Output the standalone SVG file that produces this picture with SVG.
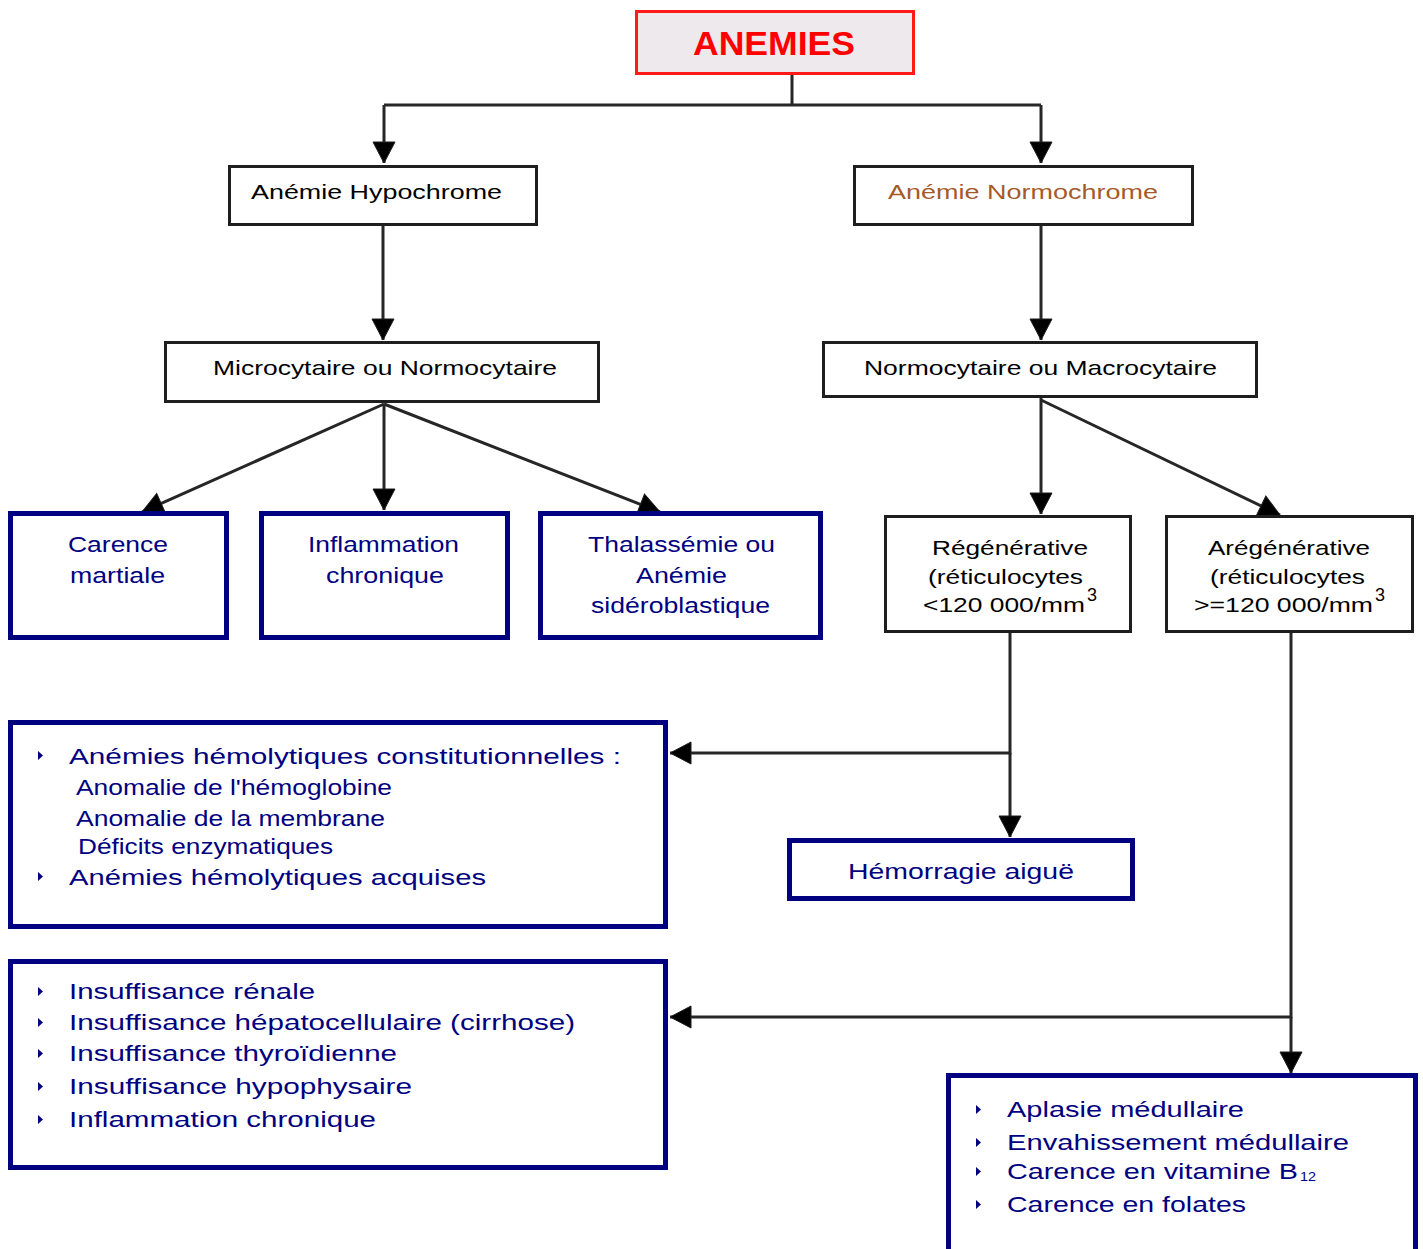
<svg xmlns="http://www.w3.org/2000/svg" width="1423" height="1249" viewBox="0 0 1423 1249">
<style>
.t{font-family:"Liberation Sans",Arial,sans-serif;font-size:21px;fill:#000}
.b{font-family:"Liberation Sans",Arial,sans-serif;font-size:22px;fill:#000080}
.bx{fill:#fff;stroke:#1e1e1e;stroke-width:3}
.bb{fill:#fff;stroke:#000080;stroke-width:5}
.c{fill:none;stroke:#262626;stroke-width:3}
</style>
<defs>
<marker id="ah" markerUnits="userSpaceOnUse" markerWidth="24" markerHeight="24" viewBox="0 -12 22 24" refX="21" refY="0" orient="auto">
<path d="M0,-11 L21,0 L0,11 z" fill="#000" stroke="#1e1e1e" stroke-width="1"/>
</marker>
<path id="bul" d="M0,0 L5,4.5 L0,9 z" fill="#000080"/>
</defs>

<g id="connectors">
<path class="c" d="M792,75 V105 M384,105 H1041"/>
<path class="c" d="M384,105 V163" marker-end="url(#ah)"/>
<path class="c" d="M1041,105 V163" marker-end="url(#ah)"/>
<path class="c" d="M383,226 V340" marker-end="url(#ah)"/>
<path class="c" d="M1041,226 V340" marker-end="url(#ah)"/>
<path class="c" d="M384,404 L142,512" marker-end="url(#ah)"/>
<path class="c" d="M384,404 V510" marker-end="url(#ah)"/>
<path class="c" d="M384,404 L660,512" marker-end="url(#ah)"/>
<path class="c" d="M1041,398 V514" marker-end="url(#ah)"/>
<path class="c" d="M1041,400 L1280,515" marker-end="url(#ah)"/>
<path class="c" d="M1010,633 V753 H670" marker-end="url(#ah)"/>
<path class="c" d="M1010,753 V837" marker-end="url(#ah)"/>
<path class="c" d="M1291,633 V1017 H670" marker-end="url(#ah)"/>
<path class="c" d="M1291,1017 V1073" marker-end="url(#ah)"/>
</g>

<g id="anemies">
<rect x="636.5" y="11.5" width="277" height="62" fill="#EEE9EC" stroke="#FF1A1A" stroke-width="3"/>
<text x="693" y="55" font-family="Liberation Sans,Arial,sans-serif" font-size="34" font-weight="bold" fill="#FF0000" textLength="162" lengthAdjust="spacingAndGlyphs">ANEMIES</text>
</g>

<g id="hypochrome">
<rect class="bx" x="229.5" y="166.5" width="307" height="58"/>
<text class="t" x="251" y="199" textLength="251" lengthAdjust="spacingAndGlyphs">Anémie Hypochrome</text>
</g>

<g id="normochrome">
<rect class="bx" x="854.5" y="166.5" width="338" height="58"/>
<text class="t" x="888" y="199" textLength="270" lengthAdjust="spacingAndGlyphs" style="fill:#A65A2A">Anémie Normochrome</text>
</g>

<g id="microcytaire">
<rect class="bx" x="165.5" y="342.5" width="433" height="59"/>
<text class="t" x="213" y="375" textLength="344" lengthAdjust="spacingAndGlyphs">Microcytaire ou Normocytaire</text>
</g>

<g id="normocytaire">
<rect class="bx" x="823.5" y="342.5" width="433" height="54"/>
<text class="t" x="864" y="375" textLength="353" lengthAdjust="spacingAndGlyphs">Normocytaire ou Macrocytaire</text>
</g>

<g id="carence">
<rect class="bb" x="10.5" y="513.5" width="216" height="124"/>
<text class="b" x="68" y="552" textLength="100" lengthAdjust="spacingAndGlyphs">Carence</text>
<text class="b" x="70" y="583" textLength="95" lengthAdjust="spacingAndGlyphs">martiale</text>
</g>

<g id="inflammation">
<rect class="bb" x="261.5" y="513.5" width="246" height="124"/>
<text class="b" x="308" y="552" textLength="151" lengthAdjust="spacingAndGlyphs">Inflammation</text>
<text class="b" x="326" y="583" textLength="118" lengthAdjust="spacingAndGlyphs">chronique</text>
</g>

<g id="thalassemie">
<rect class="bb" x="540.5" y="513.5" width="280" height="124"/>
<text class="b" x="588" y="552" textLength="187" lengthAdjust="spacingAndGlyphs">Thalassémie ou</text>
<text class="b" x="636" y="583" textLength="91" lengthAdjust="spacingAndGlyphs">Anémie</text>
<text class="b" x="591" y="613" textLength="179" lengthAdjust="spacingAndGlyphs">sidéroblastique</text>
</g>

<g id="regenerative">
<rect class="bx" x="885.5" y="516.5" width="245" height="115"/>
<text class="t" x="932" y="555" textLength="156" lengthAdjust="spacingAndGlyphs">Régénérative</text>
<text class="t" x="928" y="584" textLength="155" lengthAdjust="spacingAndGlyphs">(réticulocytes</text>
<text class="t" x="923" y="612" textLength="162" lengthAdjust="spacingAndGlyphs">&lt;120 000/mm</text>
<text class="t" x="1087" y="601" style="font-size:18px">3</text>
</g>

<g id="aregenerative">
<rect class="bx" x="1166.5" y="516.5" width="246" height="115"/>
<text class="t" x="1208" y="555" textLength="162" lengthAdjust="spacingAndGlyphs">Arégénérative</text>
<text class="t" x="1210" y="584" textLength="155" lengthAdjust="spacingAndGlyphs">(réticulocytes</text>
<text class="t" x="1194" y="612" textLength="179" lengthAdjust="spacingAndGlyphs">&gt;=120 000/mm</text>
<text class="t" x="1375" y="601" style="font-size:18px">3</text>
</g>

<g id="hemorragie">
<rect class="bb" x="789.5" y="840.5" width="343" height="58"/>
<text class="b" x="848" y="879" textLength="226" lengthAdjust="spacingAndGlyphs">Hémorragie aiguë</text>
</g>

<g id="hemolytiques">
<rect class="bb" x="10.5" y="722.5" width="655" height="204"/>
<use href="#bul" x="38" y="751"/>
<text class="b" x="69" y="764" textLength="552" lengthAdjust="spacingAndGlyphs">Anémies hémolytiques constitutionnelles :</text>
<text class="b" x="76" y="795" textLength="316" lengthAdjust="spacingAndGlyphs">Anomalie de l'hémoglobine</text>
<text class="b" x="76" y="826" textLength="309" lengthAdjust="spacingAndGlyphs">Anomalie de la membrane</text>
<text class="b" x="78" y="854" textLength="255" lengthAdjust="spacingAndGlyphs">Déficits enzymatiques</text>
<use href="#bul" x="38" y="872"/>
<text class="b" x="69" y="885" textLength="417" lengthAdjust="spacingAndGlyphs">Anémies hémolytiques acquises</text>
</g>

<g id="insuffisances">
<rect class="bb" x="10.5" y="961.5" width="655" height="206"/>
<use href="#bul" x="38" y="987"/>
<text class="b" x="69" y="999" textLength="246" lengthAdjust="spacingAndGlyphs">Insuffisance rénale</text>
<use href="#bul" x="38" y="1018"/>
<text class="b" x="69" y="1030" textLength="506" lengthAdjust="spacingAndGlyphs">Insuffisance hépatocellulaire (cirrhose)</text>
<use href="#bul" x="38" y="1049"/>
<text class="b" x="69" y="1061" textLength="328" lengthAdjust="spacingAndGlyphs">Insuffisance thyroïdienne</text>
<use href="#bul" x="38" y="1082"/>
<text class="b" x="69" y="1094" textLength="343" lengthAdjust="spacingAndGlyphs">Insuffisance hypophysaire</text>
<use href="#bul" x="38" y="1115"/>
<text class="b" x="69" y="1127" textLength="307" lengthAdjust="spacingAndGlyphs">Inflammation chronique</text>
</g>

<g id="aplasie">
<rect class="bb" x="948.5" y="1075.5" width="467" height="200"/>
<use href="#bul" x="976" y="1105"/>
<text class="b" x="1007" y="1117" textLength="237" lengthAdjust="spacingAndGlyphs">Aplasie médullaire</text>
<use href="#bul" x="976" y="1138"/>
<text class="b" x="1007" y="1150" textLength="342" lengthAdjust="spacingAndGlyphs">Envahissement médullaire</text>
<use href="#bul" x="976" y="1167"/>
<text class="b" x="1007" y="1179" textLength="291" lengthAdjust="spacingAndGlyphs">Carence en vitamine B</text>
<text class="b" x="1300" y="1181" textLength="16" lengthAdjust="spacingAndGlyphs" style="font-size:13px">12</text>
<use href="#bul" x="976" y="1200"/>
<text class="b" x="1007" y="1212" textLength="239" lengthAdjust="spacingAndGlyphs">Carence en folates</text>
</g>
</svg>
